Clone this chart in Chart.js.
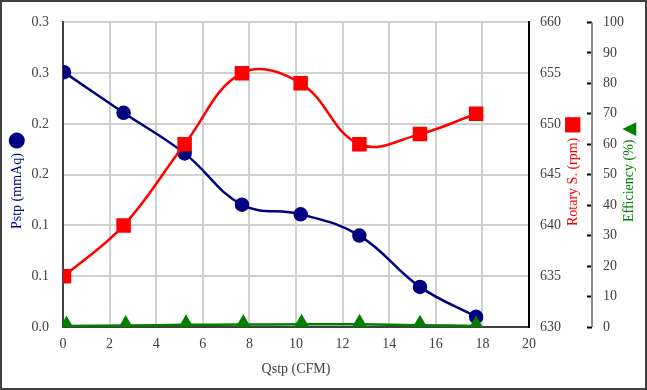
<!DOCTYPE html>
<html>
<head>
<meta charset="utf-8">
<script src="https://cdn.jsdelivr.net/npm/chart.js@4.4.1/dist/chart.umd.min.js"></script>
<style>
  html, body { margin: 0; padding: 0; background: #fff; }
  canvas { display: block; }
</style>
</head>
<body>
<canvas id="grafico" width="647" height="390"></canvas>
<script>
// Dados
const qstp = [0.04, 2.6, 5.22, 7.68, 10.2, 12.72, 15.32, 17.73];
const qstpEff = [0.15, 2.69, 5.28, 7.74, 10.24, 12.73, 15.32, 17.73];
const pstp = [0.251, 0.211, 0.171, 0.1205, 0.111, 0.090, 0.0395, 0.010];
const rotary = [635, 640, 648, 655, 654, 648, 649, 651];
const efficiency = [0.3, 0.5, 0.7, 0.8, 0.9, 0.9, 0.6, 0.3];

// Rótulos dos eixos
const pstpTickLabels = ['0.0', '0.1', '0.1', '0.2', '0.2', '0.3', '0.3'];
const xTitle = 'Qstp (CFM)';
const pstpTitle = 'Pstp (mmAq)';
const rotaryTitle = 'Rotary S. (rpm)';
const effTitle = 'Efficiency (%)';

const serif = '"Liberation Serif", "Times New Roman", serif';
Chart.defaults.font.family = serif;
Chart.defaults.font.size = 14;
Chart.defaults.color = '#404040';

const gridColor = '#d0d0d0';
const axisColor = '#404040';

function pontos(xs, ys) {
  return xs.map((x, i) => ({ x: x, y: ys[i] }));
}

// Título vertical (lido de baixo para cima) com símbolo no final
function tituloVertical(ctx, x, yBase, texto, simbolo, tamSimbolo, cor) {
  ctx.save();
  ctx.translate(x, yBase);
  ctx.rotate(-Math.PI / 2);
  ctx.fillStyle = cor;
  ctx.textAlign = 'left';
  ctx.textBaseline = 'middle';
  ctx.font = '14px ' + serif;
  ctx.fillText(texto, 0, 0);
  const w = ctx.measureText(texto + ' ').width;
  ctx.font = tamSimbolo + 'px "DejaVu Sans"';
  ctx.fillText(simbolo, w, 0);
  ctx.restore();
}

const extras = {
  id: 'extras',
  afterDraw(chart) {
    const ctx = chart.ctx;
    const eff = chart.scales.yEff;
    ctx.save();
    // linha do eixo de eficiência
    ctx.strokeStyle = '#8a8a8a';
    ctx.lineWidth = 2;
    ctx.beginPath();
    ctx.moveTo(eff.left + 5, eff.top);
    ctx.lineTo(eff.left + 5, eff.bottom);
    ctx.stroke();
    ctx.restore();

    tituloVertical(ctx, 17, 229, pstpTitle, '●', 21, '#000080');
    tituloVertical(ctx, 573, 226, rotaryTitle, '■', 20, '#ff0000');
    tituloVertical(ctx, 629, 222, effTitle, '▲', 18, '#008000');

    // moldura externa
    ctx.save();
    ctx.strokeStyle = axisColor;
    ctx.lineWidth = 2;
    ctx.strokeRect(1, 1, chart.width - 2, chart.height - 2);
    ctx.restore();
  }
};

new Chart(document.getElementById('grafico'), {
  type: 'line',
  data: {
    datasets: [
      {
        label: effTitle,
        data: pontos(qstpEff, efficiency),
        yAxisID: 'yEff',
        borderColor: '#008000',
        backgroundColor: '#008000',
        borderWidth: 2.5,
        pointStyle: 'triangle',
        pointRadius: 8,
        tension: 0.4,
        order: 0
      },
      {
        label: rotaryTitle,
        data: pontos(qstp, rotary),
        yAxisID: 'yRpm',
        borderColor: '#ff0000',
        backgroundColor: '#ff0000',
        borderWidth: 2.5,
        pointStyle: 'rect',
        pointRadius: 8.5,
        tension: 0.4,
        order: 1
      },
      {
        label: pstpTitle,
        data: pontos(qstp, pstp),
        yAxisID: 'y',
        borderColor: '#000080',
        backgroundColor: '#000080',
        borderWidth: 2.5,
        pointStyle: 'circle',
        pointRadius: 6,
        tension: 0.4,
        order: 2
      }
    ]
  },
  options: {
    responsive: false,
    animation: false,
    layout: { padding: { top: 19, left: 0, right: 0, bottom: 0 } },
    plugins: { legend: { display: false }, tooltip: { enabled: false } },
    scales: {
      x: {
        type: 'linear',
        min: 0,
        max: 20,
        ticks: { stepSize: 2, padding: 9 },
        grid: { color: gridColor, lineWidth: 2, drawTicks: false },
        border: { color: axisColor, width: 2 },
        title: { display: true, text: xTitle, padding: { top: 0, bottom: 12 } },
        afterFit: (s) => { s.height = 63; }
      },
      y: {
        position: 'left',
        min: 0,
        max: 0.3,
        ticks: {
          stepSize: 0.05,
          padding: 14,
          callback: (v, i) => pstpTickLabels[i]
        },
        grid: { color: gridColor, lineWidth: 2, drawTicks: false },
        border: { color: axisColor, width: 2 },
        afterFit: (s) => { s.width = 63; }
      },
      yRpm: {
        position: 'right',
        min: 630,
        max: 660,
        ticks: { stepSize: 5, padding: 11 },
        grid: { drawOnChartArea: false, drawTicks: false },
        border: { color: '#000', width: 2 },
        afterFit: (s) => { s.width = 58; }
      },
      yEff: {
        position: 'right',
        min: 0,
        max: 100,
        ticks: { stepSize: 10, padding: 11 },
        grid: { drawOnChartArea: false, drawTicks: true, tickLength: 5, tickColor: '#000', tickWidth: 2 },
        border: { display: false },
        afterFit: (s) => { s.width = 60; }
      }
    }
  },
  plugins: [extras]
});
</script>
</body>
</html>
